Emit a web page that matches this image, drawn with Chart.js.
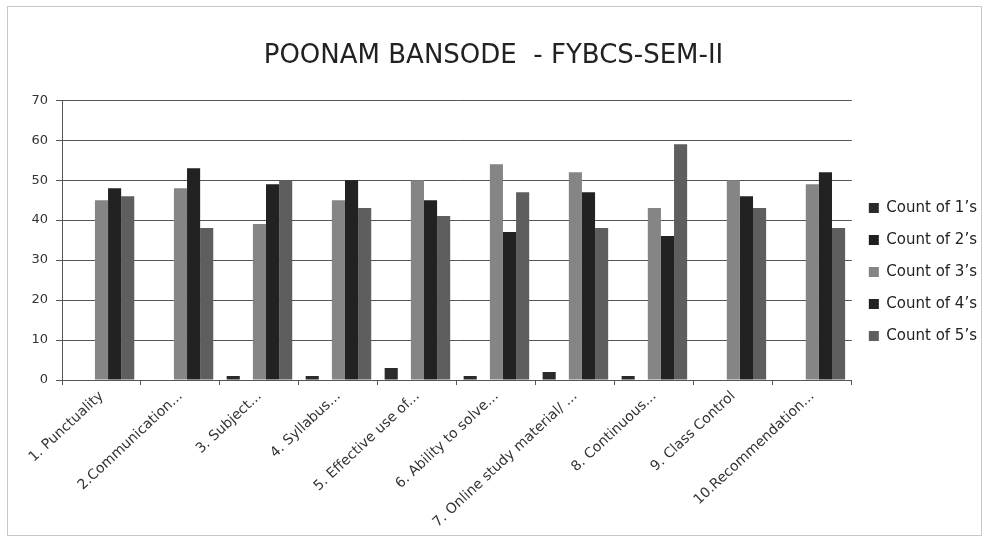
<!DOCTYPE html>
<html>
<head>
<meta charset="utf-8">
<script src="https://cdn.jsdelivr.net/npm/chart.js@4.4.1/dist/chart.umd.min.js"></script>
<style>
  body { margin: 0; background: #fff; }
  #wrap { width: 987px; height: 544px; }
</style>
</head>
<body>
<div id="wrap"><canvas id="chart"></canvas></div>
<script>
const categories = [
	"1. Punctuality",
	"2.Communication...",
	"3. Subject...",
	"4. Syllabus...",
	"5. Effective use of...",
	"6. Ability to solve...",
	"7. Online study material/ ...",
	"8. Continuous...",
	"9. Class Control",
	"10.Recommendation...",
];
const count1 = [0, 0, 1, 1, 3, 1, 2, 1, 0, 0];
const count2 = [0, 0, 0, 0, 0, 0, 0, 0, 0, 0];
const count3 = [45, 48, 39, 45, 50, 54, 52, 43, 50, 49];
const count4 = [48, 53, 49, 50, 45, 37, 47, 36, 46, 52];
const count5 = [46, 38, 50, 43, 41, 47, 38, 59, 43, 38];
const seriesNames = ["Count of 1’s", "Count of 2’s", "Count of 3’s", "Count of 4’s", "Count of 5’s"];
const seriesColors = ["#2b2b2b", "#1f1f1f", "#858585", "#222222", "#5e5e5e"];
const yMax = 70;
const yStep = 10;

const seriesValues = [count1, count2, count3, count4, count5];
const font = "'DejaVu Sans', 'Open Sans', sans-serif";

const frame = {
	id: "frame",
	beforeDraw(chart) {
		const ctx = chart.ctx;
		ctx.save();
		ctx.fillStyle = "#fff";
		ctx.fillRect(0, 0, chart.width, chart.height);
		ctx.strokeStyle = "#c8c8c8";
		ctx.lineWidth = 1;
		ctx.strokeRect(7.5, 6.5, chart.width - 13, chart.height - 15);
		ctx.restore();
	},
};

new Chart(document.getElementById("chart"), {
	type: "bar",
	data: {
		labels: categories,
		datasets: seriesValues.map((vals, i) => ({
			label: seriesNames[i],
			data: vals,
			backgroundColor: seriesColors[i],
			borderWidth: 0,
		})),
	},
	options: {
		responsive: true,
		maintainAspectRatio: false,
		animation: false,
		categoryPercentage: 0.83,
		barPercentage: 1,
		layout: { padding: { left: 0, right: 0, top: 0, bottom: 0 } },
		plugins: {
			title: {
				display: true,
				text: "POONAM BANSODE  - FYBCS-SEM-II",
				color: "#222",
				font: { family: font, size: 26, weight: "normal" },
				padding: { top: 41, bottom: 28 },
			},
			legend: {
				position: "right",
				labels: {
					color: "#222",
					boxWidth: 10,
					boxHeight: 10,
					padding: 17,
					font: { family: font, size: 15 },
				},
			},
			tooltip: { enabled: false },
		},
		scales: {
			x: {
				afterFit: (scale) => { scale.height = 164; },
				grid: { drawOnChartArea: false, drawTicks: true, tickLength: 5, color: "#555" },
				border: { color: "#555" },
				ticks: {
					color: "#333",
					minRotation: 43,
					maxRotation: 43,
					autoSkip: false,
					font: { family: font, size: 14 },
				},
			},
			y: {
				min: 0,
				max: yMax,
				afterFit: (scale) => { scale.width = 62; },
				grid: { color: "#555", tickLength: 6 },
				border: { color: "#555" },
				ticks: {
					stepSize: yStep,
					color: "#333",
					padding: 8,
					font: { family: font, size: 13 },
				},
			},
		},
	},
	plugins: [frame],
});
</script>
</body>
</html>
